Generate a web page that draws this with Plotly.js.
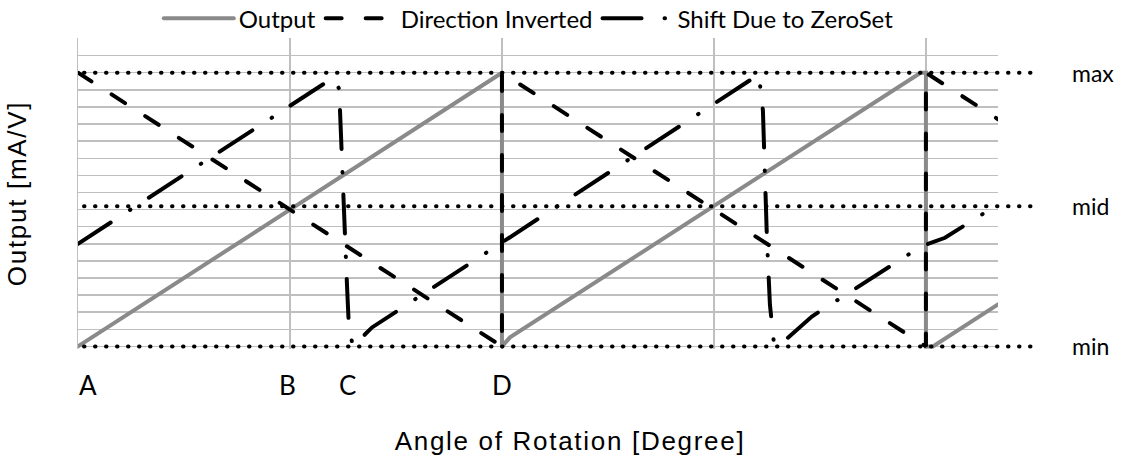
<!DOCTYPE html>
<html>
<head>
<meta charset="utf-8">
<script src="https://cdn.plot.ly/plotly-3.0.1.min.js"></script>
<style>
  html, body { margin: 0; padding: 0; background: #fff; }
  #chart { width: 1126px; height: 462px; }
  .xtitle, .ytitle { letter-spacing: 1.7px; }
  .g-xtitle { transform: translateX(32px); }
  .scatterlayer .js-line, .legendlines path, .shapelayer path { stroke-linecap: round; }
</style>
</head>
<body>
<div id="chart"></div>
<script>
// Angle of rotation in grid units (one vertical gridline per unit)
const outputAngle = [0, 2, 2, 2.038, 3.975, 4, 4, 4.033, 4.34];
const outputValue = [0, 16, 0, 0.53, 16, 16, 0, 0, 2.46];

const invertedAngle = [0, 2, 2, 4, 4, 4.34];
const invertedValue = [16, 0, 16, 0, 16, 13.28];

const shiftAngle = [0, 1.203, 1.231, 1.236, 1.269, 1.278, 1.297, 1.387, 3.212, 3.231, 3.25, 3.264, 3.283, 3.302, 3.462, 3.976, 4.09, 4.34];
const shiftValue = [6.0, 15.7, 15.08, 13.79, 3.57, 1.11, 0, 1.11, 15.9, 13.79, 6.3, 2.45, 0.18, 0, 1.75, 5.84, 6.35, 8.3];

const levelNames = ['max', 'mid', 'min'];
const levelValues = [16, 8.2, 0];

const pointLabels = ['A', 'B', 'C', 'D'];
const pointAngles = [0.045, 0.99, 1.27, 2.0];

const seriesNames = ['Output', 'Direction Inverted', 'Shift Due to ZeroSet'];

const calibriLike = 'Lato, "Open Sans", sans-serif';
const arialLike = '"Liberation Sans", Arial, sans-serif';

const traces = [
  {
    x: outputAngle, y: outputValue, name: seriesNames[0], mode: 'lines',
    line: { color: '#8a8a8a', width: 4 }
  },
  {
    x: invertedAngle, y: invertedValue, name: seriesNames[1], mode: 'lines',
    line: { color: '#000000', width: 4, dash: '16px,24px' }
  },
  {
    x: shiftAngle, y: shiftValue, name: seriesNames[2], mode: 'lines',
    line: { color: '#000000', width: 4, dash: '39px,23px,0.5px,22px' }
  }
];

const shapes = levelValues.map(v => ({
  type: 'line', xref: 'paper', yref: 'y',
  x0: 6 / 920, x1: 962 / 920, y0: v, y1: v,
  line: { color: '#000000', width: 4, dash: '0.5px,10.5px' }
}));

const annotations = [];
levelNames.forEach((n, i) => {
  annotations.push({
    text: n, xref: 'paper', yref: 'y', x: 992 / 920, y: levelValues[i],
    xanchor: 'left', yanchor: 'middle', showarrow: false,
    font: { family: calibriLike, size: 23, color: '#000' }
  });
});
pointLabels.forEach((t, i) => {
  annotations.push({
    text: t, xref: 'x', yref: 'paper', x: pointAngles[i], y: -0.058,
    xanchor: 'center', yanchor: 'top', showarrow: false,
    font: { family: calibriLike, size: 26, color: '#000' }
  });
});

const layout = {
  width: 1126, height: 462,
  margin: { l: 78, r: 128, t: 38, b: 113, autoexpand: false },
  paper_bgcolor: '#ffffff', plot_bgcolor: '#ffffff',
  showlegend: true,
  legend: {
    orientation: 'h', x: 0.49, xanchor: 'center', y: 0.99, yanchor: 'bottom',
    font: { family: calibriLike, size: 24, color: '#000' },
    itemwidth: 70, bgcolor: 'rgba(0,0,0,0)'
  },
  xaxis: {
    range: [0, 4.34], tick0: 0, dtick: 1, showgrid: true,
    gridcolor: '#bfbfbf', gridwidth: 1.5, zeroline: false,
    showticklabels: false, ticks: '', showline: false,
    title: { text: 'Angle of Rotation [Degree]', standoff: 82,
      font: { family: arialLike, size: 26, color: '#000' } }
  },
  yaxis: {
    range: [-0.15, 18.03], tick0: 0, dtick: 1, showgrid: true,
    gridcolor: '#bfbfbf', gridwidth: 1.5, zeroline: false,
    showticklabels: false, ticks: '', showline: true,
    linecolor: '#bfbfbf', linewidth: 1.5,
    title: { text: 'Output [mA/V]', standoff: 42,
      font: { family: arialLike, size: 26, color: '#000' } }
  },
  shapes: shapes,
  annotations: annotations
};

Plotly.newPlot('chart', traces, layout, { displayModeBar: false, staticPlot: true });
</script>
</body>
</html>
